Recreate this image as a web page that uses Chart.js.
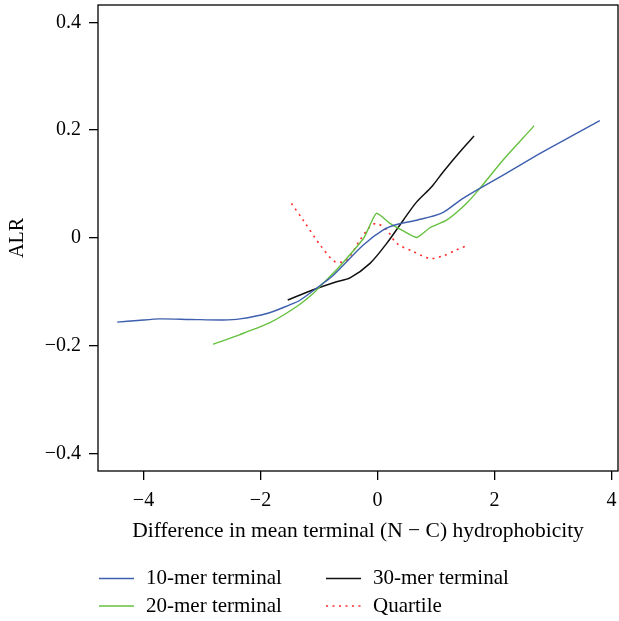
<!DOCTYPE html>
<html>
<head>
<meta charset="utf-8">
<script src="https://cdn.jsdelivr.net/npm/chart.js@4/dist/chart.umd.min.js"></script>
<style>
    body { margin: 0; background: #fff; }
    #wrap { width: 619px; height: 621px; }
</style>
</head>
<body>
<div id="wrap"><canvas id="alr-chart" width="619" height="621"></canvas></div>
<script>
// values
const xTicks = [-4, -2, 0, 2, 4];
const yTicks = [-0.4, -0.2, 0, 0.2, 0.4];

const mer10X = [-4.45, -4.1, -3.72, -3.2, -2.64, -2.35, -1.89, -1.50, -1.32, -0.93, -0.755, -0.243, 0.099, 0.328, 0.67, 1.097, 1.44, 1.75, 2.2, 2.78, 3.3, 3.80];
const mer10Y = [-0.156, -0.153, -0.150, -0.151, -0.152, -0.150, -0.140, -0.124, -0.115, -0.084, -0.069, -0.013, 0.015, 0.025, 0.033, 0.046, 0.072, 0.092, 0.120, 0.157, 0.188, 0.2175];

const mer20X = [-2.81, -2.35, -1.84, -1.38, -1.10, -0.93, -0.70, -0.24, -0.128, -0.014, 0.214, 0.44, 0.67, 0.897, 1.18, 1.52, 1.75, 2.15, 2.61, 2.675];
const mer20Y = [-0.197, -0.179, -0.157, -0.127, -0.103, -0.084, -0.059, -0.001, 0.024, 0.046, 0.027, 0.013, 0.001, 0.019, 0.033, 0.064, 0.092, 0.145, 0.200, 0.208];

const mer30X = [-1.535, -1.10, -0.70, -0.47, -0.128, 0.157, 0.44, 0.67, 0.926, 1.125, 1.41, 1.65];
const mer30Y = [-0.115, -0.096, -0.081, -0.074, -0.047, -0.010, 0.033, 0.067, 0.095, 0.123, 0.160, 0.189];

const quartX = [-1.47, -1.27, -0.98, -0.726, -0.53, -0.30, -0.128, -0.014, 0.157, 0.328, 0.61, 0.897, 1.125, 1.35, 1.55];
const quartY = [0.064, 0.033, -0.013, -0.044, -0.041, -0.004, 0.021, 0.027, 0.015, -0.010, -0.025, -0.038, -0.033, -0.022, -0.013];

const FONT = '"Liberation Serif", "Times New Roman", serif';

function pts(xs, ys) {
    return xs.map((x, i) => ({ x: x, y: ys[i] }));
}

function fmt(v) {
    const s = String(Math.round(v * 10) / 10);
    return s.replace('-', '\u2212');
}

function noPad(scale) {
    scale.paddingLeft = 0;
    scale.paddingRight = 0;
    scale.paddingTop = 0;
    scale.paddingBottom = 0;
}

// box round the plot area
const frame = {
    id: 'frame',
    beforeDatasetsDraw(chart) {
        const a = chart.chartArea, ctx = chart.ctx;
        ctx.save();
        ctx.strokeStyle = '#000';
        ctx.lineWidth = 1.3;
        ctx.strokeRect(a.left, a.top, a.right - a.left, a.bottom - a.top);
        ctx.restore();
    }
};

// two-column legend under the axis title
const bottomLegend = {
    id: 'bottomLegend',
    afterDraw(chart) {
        const ctx = chart.ctx;
        const cols = [99, 326];
        const rows = [578.5, 606];
        ctx.save();
        ctx.font = '21px ' + FONT;
        ctx.textBaseline = 'middle';
        ctx.fillStyle = '#000';
        chart.data.datasets.forEach((ds, i) => {
            const x = cols[Math.floor(i / 2)];
            const y = rows[i % 2];
            ctx.strokeStyle = ds.borderColor;
            ctx.lineWidth = ds.borderWidth;
            ctx.setLineDash(ds.borderDash || []);
            ctx.beginPath();
            ctx.moveTo(x, y);
            ctx.lineTo(x + 35, y);
            ctx.stroke();
            ctx.fillText(ds.label, x + 47, y);
        });
        ctx.restore();
    }
};

const ctx = document.getElementById('alr-chart').getContext('2d');
const chart = new Chart(ctx, {
    type: 'line',
    data: {
        datasets: [{
            label: '10-mer terminal',
            data: pts(mer10X, mer10Y),
            borderColor: '#3d5fae',
            borderWidth: 1.4,
            tension: 0.3
        }, {
            label: '20-mer terminal',
            data: pts(mer20X, mer20Y),
            borderColor: '#66c13f',
            borderWidth: 1.4,
            tension: 0.2
        }, {
            label: '30-mer terminal',
            data: pts(mer30X, mer30Y),
            borderColor: '#111111',
            borderWidth: 1.5,
            tension: 0.3
        }, {
            label: 'Quartile',
            data: pts(quartX, quartY),
            borderColor: '#ff2b2b',
            borderWidth: 1.6,
            borderDash: [2, 4.5],
            tension: 0.3
        }]
    },
    options: {
        responsive: false,
        animation: false,
        devicePixelRatio: 1,
        layout: {
            padding: { top: 5, right: 1, bottom: 60, left: 0 }
        },
        elements: {
            point: { radius: 0, hoverRadius: 0 },
            line: { fill: false }
        },
        plugins: {
            legend: { display: false },
            tooltip: { enabled: false }
        },
        scales: {
            x: {
                type: 'linear',
                min: -4.778,
                max: 4.111,
                afterBuildTicks: function(scale) {
                    scale.ticks = xTicks.map(v => ({ value: v }));
                },
                afterFit: function(scale) {
                    scale.height = 90;
                    noPad(scale);
                },
                grid: {
                    drawOnChartArea: false,
                    drawTicks: true,
                    tickLength: 9,
                    color: '#000',
                    lineWidth: 1.3
                },
                border: { display: false },
                ticks: {
                    padding: 9,
                    color: '#000',
                    font: { family: FONT, size: 20 },
                    maxRotation: 0,
                    callback: v => fmt(v)
                },
                title: {
                    display: true,
                    text: 'Difference in mean terminal (N \u2212 C) hydrophobicity',
                    color: '#000',
                    font: { family: FONT, size: 21.5 },
                    padding: { top: 0, bottom: 17 }
                }
            },
            y: {
                type: 'linear',
                min: -0.432,
                max: 0.432,
                afterBuildTicks: function(scale) {
                    scale.ticks = yTicks.map(v => ({ value: v }));
                },
                afterFit: function(scale) {
                    scale.width = 98;
                    noPad(scale);
                },
                grid: {
                    drawOnChartArea: false,
                    drawTicks: true,
                    tickLength: 9,
                    color: '#000',
                    lineWidth: 1.3
                },
                border: { display: false },
                ticks: {
                    padding: 8,
                    color: '#000',
                    font: { family: FONT, size: 20 },
                    callback: v => fmt(v)
                },
                title: {
                    display: true,
                    text: 'ALR',
                    color: '#000',
                    font: { family: FONT, size: 20 },
                    padding: { top: 6, bottom: 0 }
                }
            }
        }
    },
    plugins: [frame, bottomLegend]
});
</script>
</body>
</html>
